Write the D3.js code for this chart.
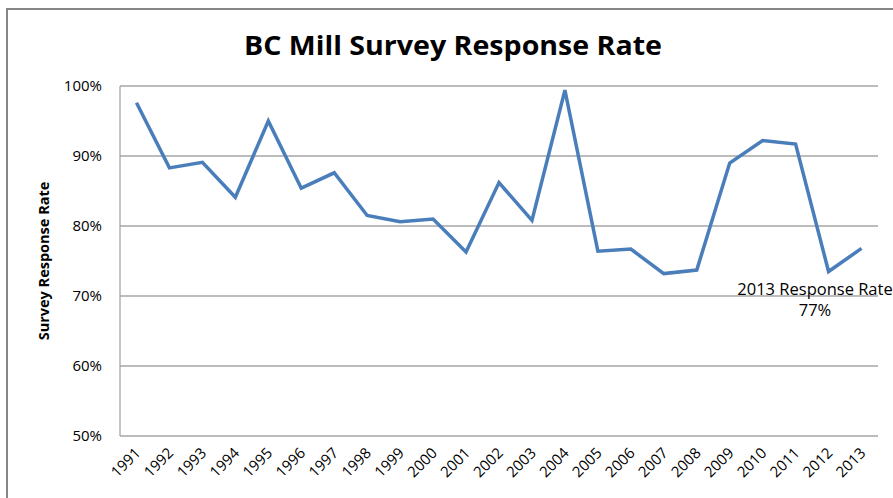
<!DOCTYPE html>
<html>
<head>
<meta charset="utf-8">
<script src="https://cdn.jsdelivr.net/npm/d3@7"></script>
<style>
  body { margin: 0; background: #fff; }
  text { font-family: "Open Sans", sans-serif; fill: #000; }
</style>
</head>
<body>
<div id="main"></div>
<script>
/* Define Size */
const width = 893, height = 498;
const margin = {top: 86, right: 15, bottom: 62, left: 120};

/* Define Data */
const years = ["1991","1992","1993","1994","1995","1996","1997","1998","1999","2000","2001","2002",
  "2003","2004","2005","2006","2007","2008","2009","2010","2011","2012","2013"];
const responseRate = [97.6, 88.3, 89.1, 84.1, 95.0, 85.4, 87.6, 81.5, 80.6, 81.0, 76.3, 86.2,
  80.8, 99.4, 76.4, 76.7, 73.2, 73.7, 89.0, 92.2, 91.7, 73.5, 76.8];
const yTicks = [50, 60, 70, 80, 90, 100];

const svg = d3.select("#main").append("svg").attr("width", width).attr("height", height);

/* chart border */
svg.append("rect")
  .attr("x", 7).attr("y", 9).attr("width", 900).attr("height", 500)
  .attr("fill", "none").attr("stroke", "#868686").attr("stroke-width", 2);

const x = d3.scaleBand().domain(years).range([margin.left, width - margin.right]);
const y = d3.scaleLinear().domain([50, 100]).range([height - margin.bottom, margin.top]);

/* gridlines */
svg.append("g")
  .selectAll("line").data(yTicks).enter().append("line")
  .attr("x1", margin.left).attr("x2", width - margin.right)
  .attr("y1", d => y(d)).attr("y2", d => y(d))
  .attr("stroke", "#a6a6a6").attr("stroke-width", 1.3);

/* left axis line */
svg.append("line")
  .attr("x1", margin.left).attr("x2", margin.left)
  .attr("y1", y(100)).attr("y2", y(50))
  .attr("stroke", "#a6a6a6").attr("stroke-width", 1.3);

/* y labels */
svg.append("g")
  .selectAll("text").data(yTicks).enter().append("text")
  .attr("x", 102).attr("y", d => y(d) + 5)
  .attr("text-anchor", "end")
  .style("font-size", "15px")
  .text(d => d + "%");

/* x labels */
svg.append("g")
  .selectAll("text").data(years).enter().append("text")
  .attr("text-anchor", "end")
  .attr("transform", d => `translate(${x(d) + x.bandwidth() / 2 + 5},${height - margin.bottom + 18}) rotate(-45)`)
  .style("font-size", "15px")
  .text(d => d);

/* line */
const line = d3.line()
  .x((d, i) => x(years[i]) + x.bandwidth() / 2)
  .y(d => y(d));

svg.append("path")
  .datum(responseRate)
  .attr("d", line)
  .attr("fill", "none")
  .attr("stroke", "#4a7ebb")
  .attr("stroke-width", 3.5)
  .attr("stroke-linejoin", "miter");

/* title */
svg.append("text")
  .attr("x", 453).attr("y", 55)
  .attr("text-anchor", "middle")
  .style("font-size", "27px").style("font-weight", "bold")
  .attr("textLength", 418).attr("lengthAdjust", "spacingAndGlyphs")
  .text("BC Mill Survey Response Rate");

/* y axis title */
svg.append("text")
  .attr("transform", "translate(49,261) rotate(-90)")
  .attr("text-anchor", "middle")
  .style("font-size", "14.5px").style("font-weight", "bold")
  .text("Survey Response Rate");

/* annotation */
const last = years.length - 1;
const ann = svg.append("text")
  .attr("text-anchor", "middle")
  .style("font-size", "16.5px");
ann.append("tspan").attr("x", 815).attr("y", y(responseRate[last]) + 47).text("2013 Response Rate");
ann.append("tspan").attr("x", 815).attr("y", y(responseRate[last]) + 68).text(Math.round(responseRate[last]) + "%");
</script>
</body>
</html>
